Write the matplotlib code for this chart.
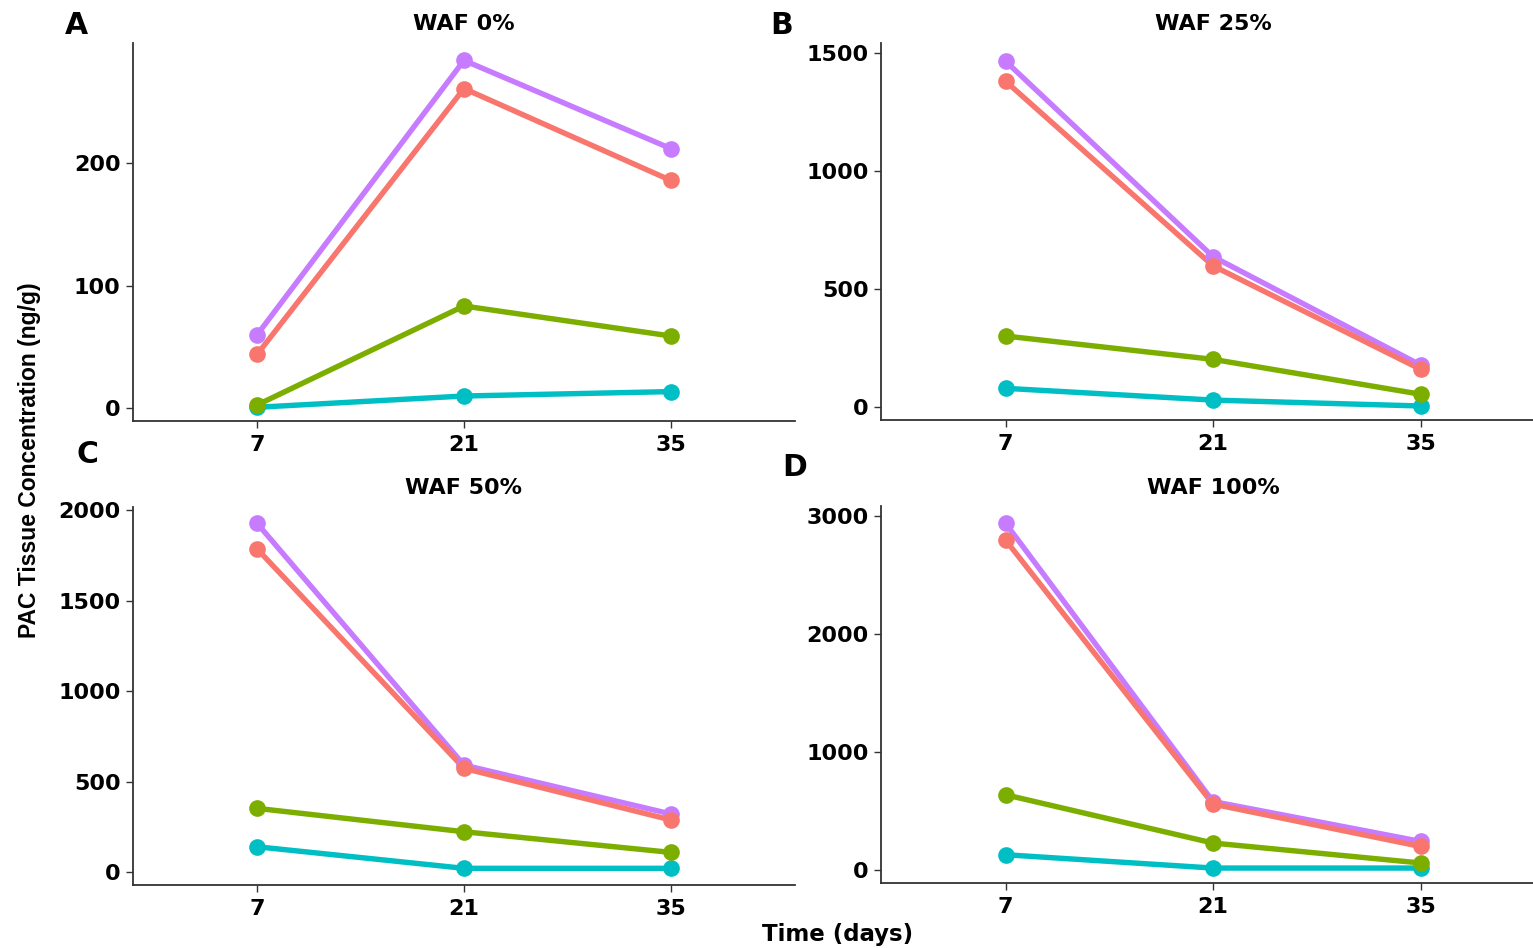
import matplotlib
matplotlib.use("Agg")
import matplotlib.pyplot as plt

plt.rcParams["font.family"] = ["DejaVu Sans"]
plt.rcParams["font.weight"] = "bold"

W, H = 1533, 948

# Sampling days and panel annotations
days = [7, 21, 35]
day_labels = ["7", "21", "35"]
panel_titles = ["WAF 0%", "WAF 25%", "WAF 50%", "WAF 100%"]
panel_tags = ["A", "B", "C", "D"]

# PAC tissue concentration (ng/g); one row per panel (WAF 0, 25, 50, 100 %)
red_vals = [[44, 261, 186], [1382, 598, 159], [1785, 574, 289], [2794, 556, 197]]
green_vals = [[2.7, 83.5, 59], [300, 201, 53], [353, 224, 110], [635, 226, 57]]
cyan_vals = [[0.8, 10, 13.6], [78, 28, 3], [141, 22, 22], [127, 14, 14]]
purple_vals = [[60, 284, 212], [1467, 637, 177], [1926, 592, 322], [2936, 578, 240]]

# y tick values per panel
yticks_a = [0, 100, 200]
yticks_b = [0, 500, 1000, 1500]
yticks_c = [0, 500, 1000, 1500, 2000]
yticks_d = [0, 1000, 2000, 3000]

colors = {"red": "#F8766D", "green": "#7CAE00", "cyan": "#00BFC4", "purple": "#C77CFF"}

# drawing order (last on top)
series = [
    ("purple", purple_vals),
    ("cyan", cyan_vals),
    ("green", green_vals),
    ("red", red_vals),
]

# panel boxes in pixels: left, top, right, bottom
boxes = [
    (133, 43, 795, 421),
    (881, 43, 1545, 420),
    (133, 507, 795, 885),
    (881, 506, 1545, 883),
]
ylims = [(-10.4, 298.2), (-56.5, 1544), (-70, 2016.6), (-112.6, 3082)]
yticks = [yticks_a, yticks_b, yticks_c, yticks_d]
tag_pos = [(76, 25), (782, 25), (87, 455), (795, 468)]

fig = plt.figure(figsize=(W / 100, H / 100), dpi=100)
fig.patch.set_facecolor("white")

axis_col = "#333333"

for i, (l, t, r, b) in enumerate(boxes):
    ax = fig.add_axes([l / W, 1 - b / H, (r - l) / W, (b - t) / H])
    ax.set_facecolor("white")
    for name, vals in series:
        ax.plot(days, vals[i], color=colors[name], lw=3.9, solid_capstyle="butt", zorder=2)
    for name, vals in series:
        ax.plot(days, vals[i], ls="none", marker="o", ms=12, color=colors[name],
                markeredgewidth=0, zorder=3)
    ax.set_xlim(-1.4, 43.4)
    ax.set_ylim(*ylims[i])
    ax.set_xticks(days)
    ax.set_xticklabels(day_labels)
    ax.set_yticks(yticks[i])
    ax.set_yticklabels([str(v) for v in yticks[i]])
    for s in ("top", "right"):
        ax.spines[s].set_visible(False)
    for s in ("left", "bottom"):
        ax.spines[s].set_color(axis_col)
        ax.spines[s].set_linewidth(1.3)
    ax.tick_params(axis="both", direction="out", length=5, width=1.0, color=axis_col,
                   labelsize=16, labelcolor="black")
    ax.tick_params(axis="x", pad=5)
    ax.tick_params(axis="y", pad=4)
    for lab in ax.get_xticklabels() + ax.get_yticklabels():
        lab.set_fontweight("bold")
    ax.set_title(panel_titles[i], fontsize=16, fontweight="bold", pad=9)
    fig.text(tag_pos[i][0] / W, 1 - tag_pos[i][1] / H, panel_tags[i], fontsize=21.5,
             fontweight="bold", ha="center", va="center")

fig.text(30 / W, 1 - 460 / H, "PAC Tissue Concentration (ng/g)", rotation=90,
         fontsize=16.5, fontweight="bold", ha="center", va="center",
         family=["Liberation Sans", "DejaVu Sans"])
fig.text(838 / W, 1 - 935 / H, "Time (days)", fontsize=16.5, fontweight="bold",
         ha="center", va="center")

fig.savefig("out.png", dpi=100, facecolor="white")
